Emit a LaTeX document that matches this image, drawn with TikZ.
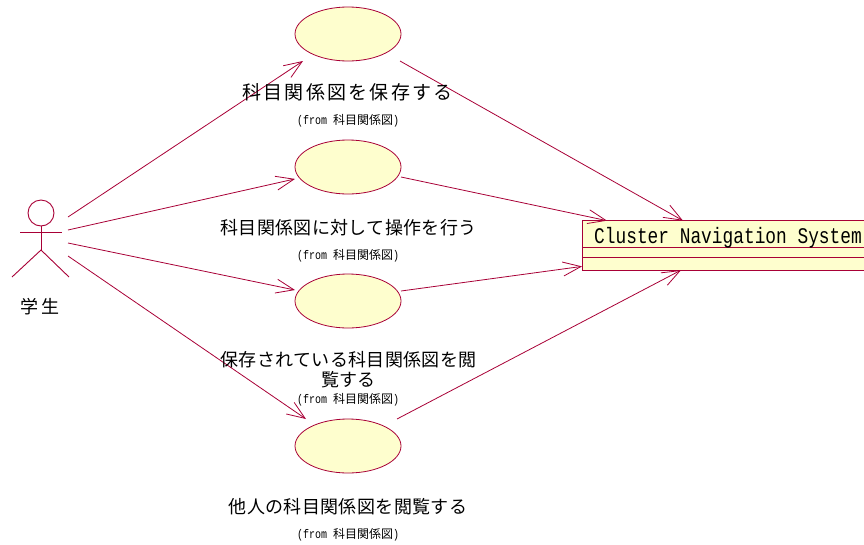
\documentclass[tikz,border=0pt]{standalone}
\usepackage{fontspec}
\usetikzlibrary{arrows.meta,shapes.geometric}
\newfontfamily\jpa[LetterSpace=2]{Noto Sans CJK JP}
\newfontfamily\jpb[LetterSpace=12]{Noto Sans CJK JP}
\newfontfamily\jpd[LetterSpace=22]{Noto Sans CJK JP}
\newfontfamily\jpc{Noto Sans CJK JP}
\newfontfamily\narrowmono[FakeStretch=0.8]{Liberation Mono}
\definecolor{umlline}{HTML}{A80036}
\definecolor{umlfill}{HTML}{FEFECE}
\tikzset{
  usecase/.style={ellipse,draw=umlline,fill=umlfill,line width=0.8pt,minimum width=106pt,minimum height=54pt,inner sep=0pt,outer sep=0pt},
  ucbox/.style={rectangle,minimum width=106pt,minimum height=54pt,inner sep=0pt,outer sep=0pt},
  umlclass/.style={rectangle,draw=umlline,fill=umlfill,line width=1pt,minimum width=286pt,minimum height=49.5pt,inner sep=0pt,outer sep=0pt},
  conn/.style={draw=umlline,line width=0.8pt,-{Straight Barb[length=18pt,width=14pt,line width=0.8pt]}},
  limb/.style={draw=umlline,line width=0.9pt},
  uclabel/.style={inner sep=0pt,align=center,text=black,font=\fontsize{18}{20}\selectfont\jpa},
  fromlabel/.style={inner sep=0pt,text=black,font=\fontsize{12}{14}\selectfont\jpc},
}
\newcommand{\fromtxt}{{\narrowmono\fontsize{12.5}{14}\selectfont (from }科目関係図{\narrowmono\fontsize{12.5}{14}\selectfont )}}
\begin{document}
\begin{tikzpicture}[x=1pt,y=-1pt]
\useasboundingbox (0,0) rectangle (864,544);
\clip (0,0) rectangle (864,544);
% use cases
\node[usecase] (uc1) at (348,34) {};
\node[usecase] (uc2) at (348,167) {};
\node[usecase] (uc3) at (348,301) {};
\node[usecase] (uc4) at (348,446) {};
\node[ucbox] (b1) at (uc1) {};
\node[ucbox] (b2) at (uc2) {};
\node[ucbox] (b3) at (uc3) {};
\node[ucbox] (b4) at (uc4) {};
% class
\node[umlclass] (cls) at (725,245.4) {};
\draw[draw=umlline,line width=0.7pt] ([yshift=-2.3pt]cls.west) -- ([yshift=-2.3pt]cls.east);
\draw[draw=umlline,line width=0.7pt] ([yshift=-12.3pt]cls.west) -- ([yshift=-12.3pt]cls.east);
\node[anchor=west,inner sep=0pt,font=\narrowmono\fontsize{22.3}{24}\selectfont] (clsname) at (594,237.5) {Cluster Navigation System};
% actor
\node[circle,draw=umlline,line width=0.9pt,minimum size=26pt,inner sep=0pt,outer sep=0pt] (head) at (41,213) {};
\coordinate (hip) at (41,250);
\coordinate (handl) at (20,232);
\coordinate (handr) at (62,232);
\coordinate (footl) at (12,277);
\coordinate (footr) at (69,277);
\draw[limb] (head.south) -- (hip);
\draw[limb] (handl) -- (handr);
\draw[limb] (footl) -- (hip) -- (footr);
\node[inner sep=0pt,text=black,font=\fontsize{18}{20}\selectfont\jpd] (actorname) at (40,307) {学生};
% actor connector ends
\coordinate (a1) at (68,217);
\coordinate (a2) at (68,230);
\coordinate (a3) at (68,243);
\coordinate (a4) at (68,256);
\draw[conn] (a1) -- ([xshift=-45pt]b1.south);
\draw[conn] (a2) -- (b2);
\draw[conn] (a3) -- (b3);
\draw[conn] (a4) -- ([xshift=-42pt]b4.north);
\draw[conn] ([xshift=52pt]b1.south) -- ([xshift=-42pt]cls.north);
\draw[conn] ([yshift=-10pt]b2.east) -- ([xshift=-118pt]cls.north);
\draw[conn] ([yshift=10pt]b3.east) -- ([yshift=-21pt]cls.west);
\draw[conn] ([xshift=49pt]b4.north) -- ([xshift=-44pt]cls.south);
% labels
\node[uclabel,font=\fontsize{19}{20}\selectfont\jpb] (t1) at (347.5,92.5) {科目関係図を保存する};
\node[fromlabel] (f1) at (348,121) {\fromtxt};
\node[uclabel] (t2) at (348.5,227.5) {科目関係図に対して操作を行う};
\node[fromlabel] (f2) at (348,256) {\fromtxt};
\node[uclabel] (t3) at (348.5,369.5) {保存されている科目関係図を閲\\覧する};
\node[fromlabel] (f3) at (348,400) {\fromtxt};
\node[uclabel] (t4) at (348,506.5) {他人の科目関係図を閲覧する};
\node[fromlabel] (f4) at (348,535) {\fromtxt};
\end{tikzpicture}
\end{document}
